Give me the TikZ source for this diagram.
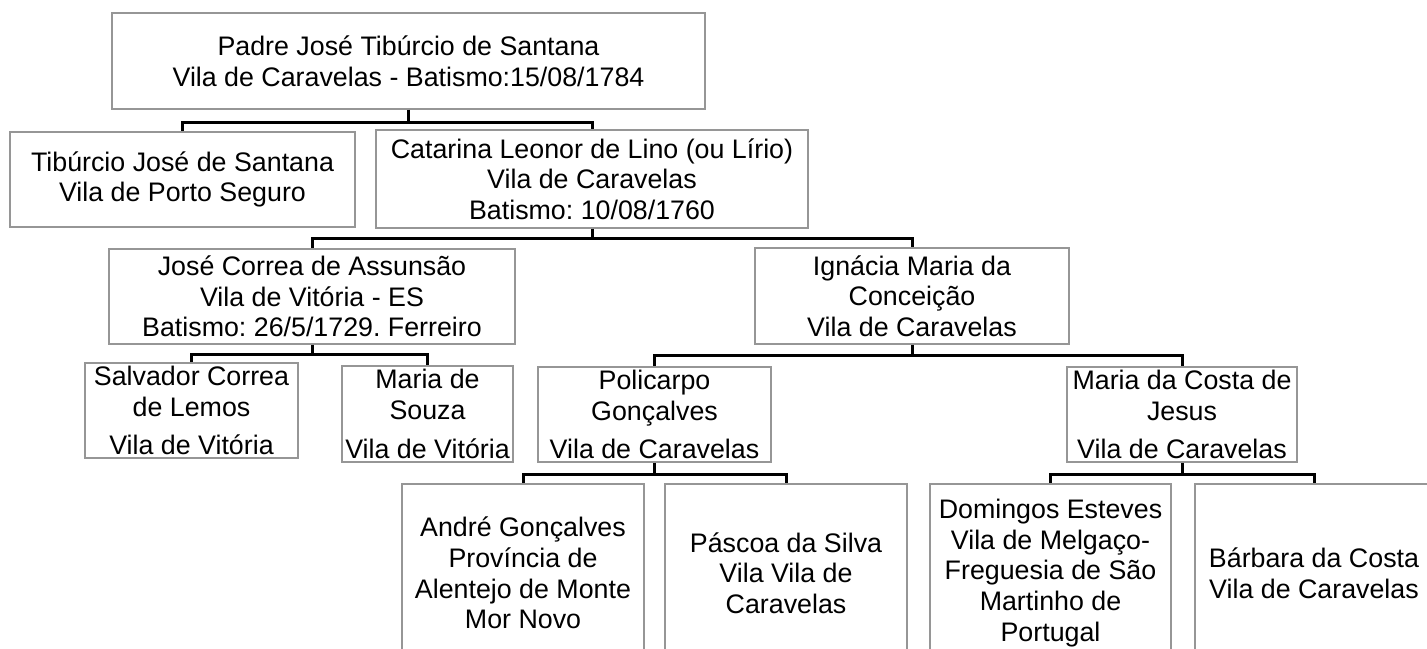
\documentclass[tikz,border=0pt]{standalone}
\usepackage{fontspec}
\setmainfont{Liberation Sans}
\usepackage{tikz}
\usetikzlibrary{positioning}
\frenchspacing

\definecolor{boxgray}{RGB}{150,150,150}

\begin{document}
\begin{tikzpicture}[x=0.5pt,y=-0.5pt,thick,
  person node/.style={rectangle,draw=boxgray,line width=0.9pt,fill=white,inner sep=0pt,align=center,font=\fontsize{13.4pt}{15.3pt}\selectfont},
  tree line/.style={draw=black,line width=1.5pt}]
\useasboundingbox (0,0) rectangle (1427,648);
\clip (0,0) rectangle (1427,648);

\node[person node,minimum width=296.5pt,minimum height=48pt] (padre) at (408.5,61) {Padre José Tibúrcio de Santana\\Vila de Caravelas - Batismo:15/08/1784};
\node[person node,minimum width=172.5pt,minimum height=47.5pt] (tiburcio) at (182.5,179.5) {Tibúrcio José de Santana\\Vila de Porto Seguro};
\node[person node,minimum width=216pt,minimum height=49pt] (catarina) at (592,179) {Catarina Leonor de Lino (ou Lírio)\\Vila de Caravelas\\Batismo: 10/08/1760};
\node[person node,minimum width=203pt,minimum height=47.5pt] (jose) at (312,296.5) {José Correa de Assunsão\\Vila de Vitória - ES\\Batismo: 26/5/1729. Ferreiro};
\node[person node,minimum width=157pt,minimum height=48pt] (ignacia) at (912,296) {Ignácia Maria da\\Conceição\\Vila de Caravelas};
\node[person node,minimum width=106.5pt,minimum height=47.5pt] (salvador) at (191.5,410.5) {Salvador Correa\\de Lemos\\[4pt]Vila de Vitória};
\node[person node,minimum width=85.5pt,minimum height=48pt] (souza) at (427.5,414) {Maria de\\Souza\\[4pt]Vila de Vitória};
\node[person node,minimum width=116.5pt,minimum height=47.5pt] (policarpo) at (654.5,414.5) {Policarpo\\Gonçalves\\[4pt]Vila de Caravelas};
\node[person node,minimum width=115pt,minimum height=47.5pt] (costa) at (1182,414.5) {Maria da Costa de\\Jesus\\[4pt]Vila de Caravelas};
\node[person node,minimum width=121pt,minimum height=89pt] (andre) at (523,573) {André Gonçalves\\Província de\\Alentejo de Monte\\Mor Novo};
\node[person node,minimum width=121pt,minimum height=89pt] (pascoa) at (786,573) {Páscoa da Silva\\Vila Vila de\\Caravelas};
\node[person node,minimum width=120.5pt,minimum height=89pt] (domingos) at (1050.5,573) {Domingos Esteves\\Vila de Melgaço-\\Freguesia de São\\Martinho de\\Portugal};
\node[person node,minimum width=119pt,minimum height=89pt] (barbara) at (1314,573) {Bárbara da Costa\\Vila de Caravelas};

\draw[tree line] (padre.south) -- ++(0,13) -| (tiburcio.north);
\draw[tree line] (padre.south) -- ++(0,13) -| (catarina.north);
\draw[tree line] (catarina.south) -- ++(0,10) -| (jose.north);
\draw[tree line] (catarina.south) -- ++(0,10) -| (ignacia.north);
\draw[tree line] (jose.south) -- ++(0,10) -| (salvador.north);
\draw[tree line] (jose.south) -- ++(0,10) -| (souza.north);
\draw[tree line] (ignacia.south) -- ++(0,11) -| (policarpo.north);
\draw[tree line] (ignacia.south) -- ++(0,11) -| (costa.north);
\draw[tree line] (policarpo.south) -- ++(0,12) -| (andre.north);
\draw[tree line] (policarpo.south) -- ++(0,12) -| (pascoa.north);
\draw[tree line] (costa.south) -- ++(0,12) -| (domingos.north);
\draw[tree line] (costa.south) -- ++(0,12) -| (barbara.north);
\end{tikzpicture}
\end{document}
